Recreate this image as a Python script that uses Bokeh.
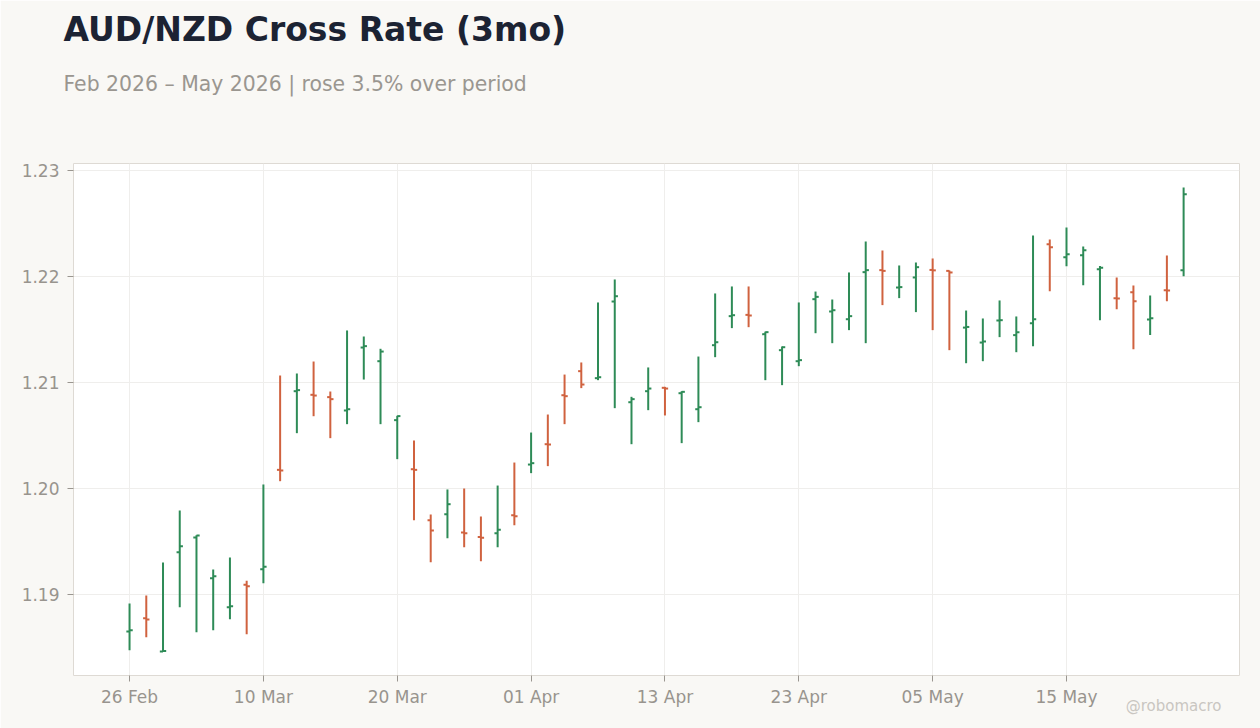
import pandas as pd
from bokeh.plotting import figure
from bokeh.models import Range1d, FixedTicker, Title, ColumnDataSource
from bokeh.embed import file_html
from bokeh.resources import INLINE

# ---- data ----
dates = pd.bdate_range("2026-02-26", periods=64)
opens = [1.18651, 1.18777, 1.18462, 1.19399, 1.19538, 1.19154, 1.18881, 1.19091,
         1.19239, 1.20176, 1.20918, 1.20884, 1.20862, 1.20736, 1.21330, 1.21201,
         1.20645, 1.20182, 1.19701, 1.19758, 1.19585, 1.19542, 1.19579, 1.19748,
         1.20226, 1.20418, 1.20880, 1.21107, 1.21041, 1.21764, 1.20814, 1.20918,
         1.20950, 1.20899, 1.20748, 1.21352, 1.21626, 1.21638, 1.21456, 1.21305,
         1.21201, 1.21786, 1.21670, 1.21597, 1.22041, 1.22060, 1.21896, 1.21991,
         1.22062, 1.22053, 1.21518, 1.21377, 1.21585, 1.21447, 1.21560, 1.22305,
         1.22182, 1.22201, 1.22069, 1.21796, 1.21852, 1.21594, 1.21871, 1.22060]
highs = [1.18915, 1.18991, 1.19302, 1.19792, 1.19560, 1.19236, 1.19349, 1.19129,
         1.20038, 1.21066, 1.21085, 1.21198, 1.20915, 1.21491, 1.21434, 1.21318,
         1.20686, 1.20453, 1.19755, 1.19991, 1.20000, 1.19736, 1.20028, 1.20245,
         1.20528, 1.20698, 1.21075, 1.21189, 1.21755, 1.21972, 1.20865, 1.21142,
         1.20959, 1.20918, 1.21245, 1.21840, 1.21906, 1.21906, 1.21480, 1.21340,
         1.21755, 1.21858, 1.21783, 1.22038, 1.22330, 1.22245, 1.22104, 1.22132,
         1.22170, 1.22057, 1.21679, 1.21604, 1.21774, 1.21623, 1.22387, 1.22349,
         1.22462, 1.22283, 1.22100, 1.21991, 1.21915, 1.21821, 1.22198, 1.22840]
lows = [1.18475, 1.18597, 1.18462, 1.18881, 1.18645, 1.18664, 1.18767, 1.18626,
        1.19107, 1.20069, 1.20522, 1.20682, 1.20475, 1.20607, 1.21028, 1.20607,
        1.20277, 1.19701, 1.19305, 1.19531, 1.19447, 1.19314, 1.19447, 1.19654,
        1.20145, 1.20211, 1.20607, 1.20947, 1.21022, 1.20758, 1.20418, 1.20739,
        1.20689, 1.20428, 1.20626, 1.21239, 1.21513, 1.21522, 1.21022, 1.20975,
        1.21154, 1.21465, 1.21371, 1.21494, 1.21371, 1.21730, 1.21796, 1.21664,
        1.21494, 1.21305, 1.21182, 1.21201, 1.21428, 1.21286, 1.21343, 1.21862,
        1.22097, 1.21918, 1.21588, 1.21692, 1.21314, 1.21447, 1.21767, 1.22003]
closes = [1.18664, 1.18764, 1.18468, 1.19456, 1.19557, 1.19173, 1.18890, 1.19079,
          1.19261, 1.20170, 1.20928, 1.20877, 1.20843, 1.20748, 1.21343, 1.21292,
          1.20683, 1.20176, 1.19604, 1.19852, 1.19579, 1.19536, 1.19610, 1.19739,
          1.20239, 1.20415, 1.20871, 1.20981, 1.21050, 1.21814, 1.20843, 1.20943,
          1.20943, 1.20912, 1.20767, 1.21380, 1.21635, 1.21632, 1.21475, 1.21333,
          1.21211, 1.21808, 1.21682, 1.21626, 1.22060, 1.22053, 1.21900, 1.22088,
          1.22058, 1.22038, 1.21524, 1.21387, 1.21588, 1.21475, 1.21597, 1.22277,
          1.22211, 1.22248, 1.22082, 1.21792, 1.21767, 1.21607, 1.21868, 1.22777]
y_ticks = [1.19, 1.20, 1.21, 1.22, 1.23]
x_tick_every = 8

TITLE = "AUD/NZD Cross Rate (3mo)"
SUBTITLE = "Feb 2026 \u2013 May 2026 | rose 3.5% over period"
CREDIT = "@robomacro"

UP = "#2e8b57"
DOWN = "#d0623f"
FONT = "DejaVu Sans"

n = len(opens)
xs = list(range(n))
colors = [UP if c >= o else DOWN for o, c in zip(opens, closes)]
w = 0.19
src = ColumnDataSource(dict(
    x=xs, xl=[x - w for x in xs], xr=[x + w for x in xs],
    o=opens, h=highs, l=lows, c=closes, color=colors))

p = figure(width=1260, height=728, output_backend="svg", toolbar_location=None,
           title_location=None,
           x_range=Range1d(-3.35, 66.34), y_range=Range1d(1.18236, 1.23066),
           min_border_left=73, min_border_right=21, min_border_top=163,
           min_border_bottom=53)
p.background_fill_color = "white"
p.border_fill_color = "#f9f8f5"
p.outline_line_color = "#dedad4"
p.outline_line_width = 1

p.segment("x", "l", "x", "h", source=src, line_color="color", line_width=2)
p.segment("xl", "o", "x", "o", source=src, line_color="color", line_width=2)
p.segment("x", "c", "xr", "c", source=src, line_color="color", line_width=2)

xt = list(range(0, n, x_tick_every))
p.xaxis.ticker = FixedTicker(ticks=xt)
p.xaxis.major_label_overrides = {i: dates[i].strftime("%d %b") for i in xt}
p.yaxis.ticker = FixedTicker(ticks=y_ticks)
p.yaxis.major_label_overrides = {t: f"{t:.2f}" for t in y_ticks}

for ax in (p.xaxis, p.yaxis):
    ax.axis_line_color = None
    ax.major_tick_line_color = "#9a9690"
    ax.major_tick_out = 6
    ax.major_tick_in = 0
    ax.minor_tick_line_color = None
    ax.major_label_text_font = FONT
    ax.major_label_text_font_size = "17px"
    ax.major_label_text_color = "#98948e"
p.xaxis.major_label_standoff = 5
p.yaxis.major_label_standoff = 8

p.xgrid.grid_line_color = "#efeeec"
p.ygrid.grid_line_color = "#efeeec"
p.xgrid.ticker = FixedTicker(ticks=xt)
p.ygrid.ticker = FixedTicker(ticks=y_ticks)

spacer1 = Title(text=" ", text_font_size="1px", standoff=65)
sub = Title(text=SUBTITLE, align="left", offset=-10, standoff=0,
            text_font=FONT, text_font_size="20.4px", text_font_style="normal",
            text_color="#9a9690")
spacer2 = Title(text=" ", text_font_size="1px", standoff=18)
main = Title(text=TITLE, align="left", offset=-10, standoff=0,
             text_font=FONT, text_font_size="33px", text_font_style="bold",
             text_color="#1c2333")
for t in (spacer1, sub, spacer2, main):
    p.add_layout(t, "above")

credit = Title(text=CREDIT, align="right", offset=18, standoff=-26,
               vertical_align="top",
               text_font=FONT, text_font_size="15px", text_font_style="normal",
               text_color="#c9c6c1")
p.add_layout(credit, "below")

open("out.html", "w").write(file_html(p, INLINE))
